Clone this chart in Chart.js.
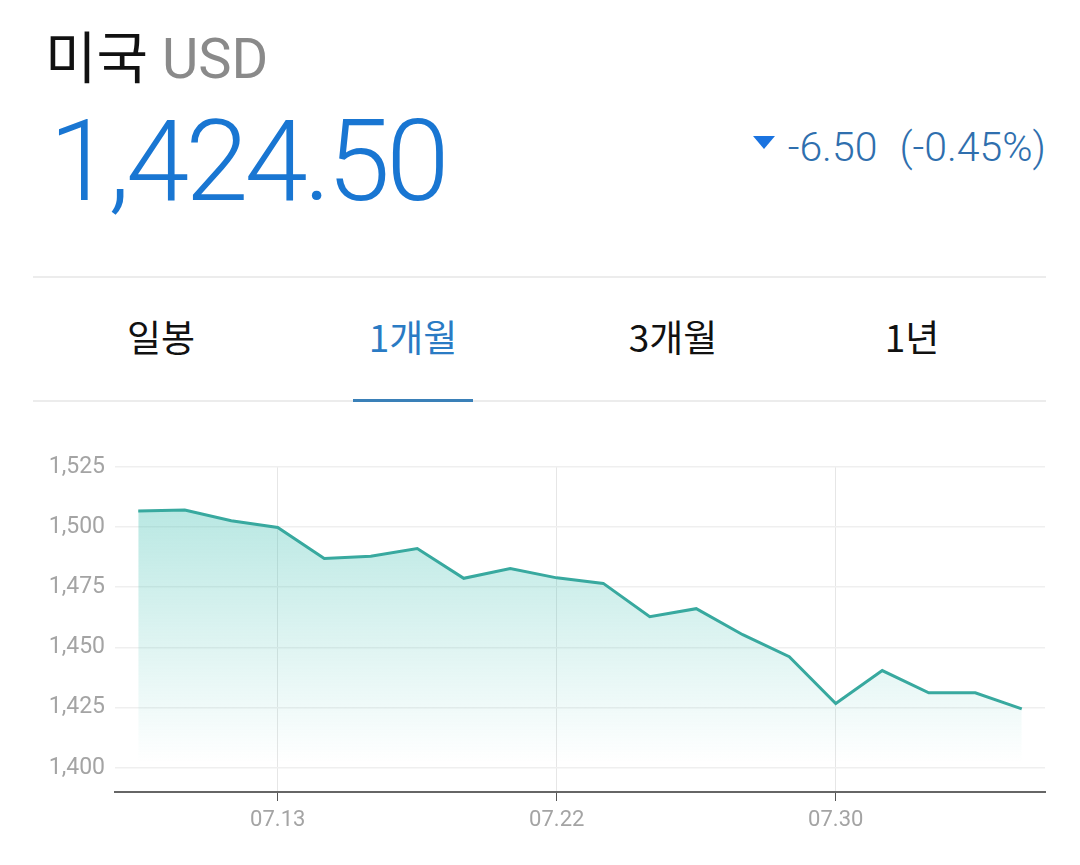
<!DOCTYPE html>
<html lang="ko">
<head>
<meta charset="utf-8">
<title>미국 USD</title>
<script src="https://cdn.jsdelivr.net/npm/chart.js@4.4.1/dist/chart.umd.min.js"></script>
<style>
  html, body { margin: 0; padding: 0; background: #fff; }
  body { width: 1080px; height: 865px; position: relative; overflow: hidden;
         font-family: Roboto, "Noto Sans CJK KR", sans-serif; }
  .title { position: absolute; left: 45px; top: 16px; font-size: 56px; line-height: 76px; }
  .title .kr { color: #111; font-family: "Noto Sans CJK KR", sans-serif; }
  .title .cur { color: #8a8a8a; margin-left: 14px; }
  .price { position: absolute; left: 49px; top: 96px; font-size: 114px; line-height: 130px;
           color: #1976d2; font-weight: 300; letter-spacing: -4px; }
  .change { position: absolute; right: 34px; top: 120px; font-size: 41px; line-height: 54px;
            color: #2f6fae; font-weight: 300; }
  .change .tri { display: inline-block; width: 0; height: 0; margin-right: 13px;
                 border-left: 11px solid transparent; border-right: 11px solid transparent;
                 border-top: 13px solid #1a73e0; vertical-align: 12px; }
  .change .pct { margin-left: 22px; }
  .tabs { position: absolute; left: 33px; top: 276px; width: 1013px; height: 122px;
          border-top: 2px solid #ececec; border-bottom: 2px solid #ececec; }
  .tabs span { position: absolute; top: 0; transform: translateX(-50%); white-space: nowrap;
               line-height: 116px; font-size: 37px; color: #111;
               font-family: "Noto Sans CJK KR", sans-serif; }
  .tabs span.on { color: #2a7bc4; }
  .tabs .bar { position: absolute; left: 320px; width: 120px; bottom: -2px; height: 3px; background: #3a80b8; }
  .chart-box { position: absolute; left: 0; top: 443px; width: 1080px; height: 407px; }
</style>
</head>
<body>
<div class="title"><span class="kr">미국</span><span class="cur">USD</span></div>
<div class="price">1,424.50</div>
<div class="change"><span class="tri"></span>-6.50<span class="pct">(-0.45%)</span></div>
<div class="tabs">
  <span style="left:128px">일봉</span>
  <span class="on" style="left:380px">1개월</span>
  <span style="left:640px">3개월</span>
  <span style="left:879px">1년</span>
  <div class="bar"></div>
</div>
<div class="chart-box"><canvas id="fxChart"></canvas></div>

<script>
// USD/KRW, last 1 month
const dates = ['07.08', '07.09', '07.10', '07.13', '07.14', '07.15', '07.16', '07.20', '07.21', '07.22',
  '07.23', '07.24', '07.27', '07.28', '07.29', '07.30', '07.31', '08.03', '08.04', '08.05'];
const rates = [1506.7, 1507.1, 1502.6, 1499.8, 1486.9, 1487.9, 1491.1, 1478.7, 1482.8, 1478.9,
  1476.6, 1462.8, 1466.1, 1455.3, 1446.2, 1426.7, 1440.4, 1431.2, 1431.2, 1424.5];
const shownDates = ['07.13', '07.22', '07.30'];
const yTicks = [1400, 1425, 1450, 1475, 1500, 1525];
const yMin = 1390;
const yMax = 1525;

function isShown(ctx) {
  return ctx.tick && shownDates.includes(dates[ctx.tick.value]);
}

function fillGradient(context) {
  const area = context.chart.chartArea;
  if (!area) return 'rgba(60, 185, 172, 0.3)';
  const g = context.chart.ctx.createLinearGradient(0, area.top + 40, 0, area.bottom - 30);
  g.addColorStop(0, 'rgba(60, 190, 176, 0.36)');
  g.addColorStop(1, 'rgba(60, 190, 176, 0)');
  return g;
}

new Chart(document.getElementById('fxChart'), {
  type: 'line',
  data: {
    labels: dates,
    datasets: [
      {
        data: rates,
        borderColor: '#38a99f',
        backgroundColor: fillGradient,
        borderWidth: 3,
        fill: 'start',
        tension: 0,
        pointRadius: 0,
      },
    ],
  },
  options: {
    responsive: true,
    maintainAspectRatio: false,
    animation: false,
    layout: { padding: { top: 15, right: 35, left: 0, bottom: 0 } },
    plugins: {
      legend: { display: false },
      tooltip: { enabled: false },
    },
    scales: {
      x: {
        offset: true,
        grid: {
          offset: false,
          color: (ctx) => (isShown(ctx) ? '#e6e6e6' : 'transparent'),
          tickColor: (ctx) => (isShown(ctx) ? '#555' : 'transparent'),
          tickLength: 9,
          lineWidth: 1,
        },
        border: { color: '#666', width: 2 },
        ticks: {
          autoSkip: false,
          maxRotation: 0,
          padding: 6,
          color: '#a4a4a4',
          font: { family: 'Roboto', size: 22 },
          callback: (value) => (shownDates.includes(dates[value]) ? dates[value] : ''),
        },
        afterFit: (scale) => { scale.height = 58; },
      },
      y: {
        min: yMin,
        max: yMax,
        afterBuildTicks: (scale) => { scale.ticks = yTicks.map((v) => ({ value: v })); },
        grid: { color: '#efefef', lineWidth: 1.5, drawTicks: false },
        border: { display: false },
        ticks: {
          padding: 10,
          color: '#a4a4a4',
          font: { family: 'Roboto', size: 23 },
          callback: (value) => value.toLocaleString('en-US'),
        },
        afterFit: (scale) => { scale.width = 115; },
      },
    },
  },
});
</script>
</body>
</html>
